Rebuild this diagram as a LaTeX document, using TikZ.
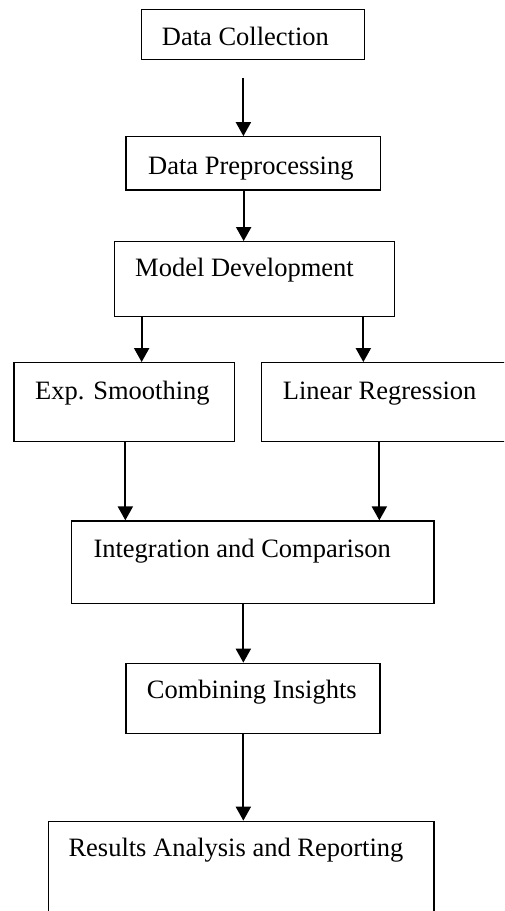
\documentclass[tikz,border=0pt]{standalone}
\usepackage{fontspec}
\setmainfont{Liberation Serif}
\usetikzlibrary{arrows.meta}
\begin{document}
\begin{tikzpicture}[x=1pt,y=-1pt,
  boxstyle/.style={draw, line width=1.3pt, inner sep=0pt},
  lbl/.style={anchor=base west, inner sep=0pt, font=\fontsize{26.5}{30}\selectfont},
  arr/.style={line width=2pt, -{Triangle[width=15pt,length=14pt]}}]
\useasboundingbox (0,0) rectangle (504,911);
\clip (0,0) rectangle (504,911);
% boxes
\node[boxstyle, minimum width=223pt,   minimum height=50.4pt]  (b1) at (253.2,34.5) {};
\node[boxstyle, minimum width=254.3pt, minimum height=53.3pt]  (b2) at (253.2,163.4) {};
\node[boxstyle, minimum width=280pt,   minimum height=75pt]    (b3) at (254.3,279.2) {};
\node[boxstyle, minimum width=220.2pt, minimum height=79pt]    (b4) at (124.1,402.2) {};
\node[boxstyle, minimum width=268.3pt, minimum height=79pt]    (b5) at (395.85,402.2) {};
\node[boxstyle, minimum width=362.3pt, minimum height=82.2pt]  (b6) at (252.85,562.1) {};
\node[boxstyle, minimum width=254pt,   minimum height=70pt]    (b7) at (253,698.3) {};
\node[boxstyle, minimum width=385.7pt, minimum height=118.7pt] (b8) at (241.15,880.65) {};
% texts
\node[lbl] (t1) at (161.7,45.7) {Data Collection};
\node[lbl] (t2) at (148,174) {Data Preprocessing};
\node[lbl] (t3) at (135,276.7) {Model Development};
\node[lbl] (t4) at (35,399.3) {Exp. Smoothing};
\node[lbl] (t5) at (282.7,399.3) {Linear Regression};
\node[lbl] (t6) at (93.3,557) {Integration and Comparison};
\node[lbl] (t7) at (146.7,698.3) {Combining Insights};
\node[lbl] (t8) at (68.3,856.7) {Results Analysis and Reporting};
% arrow end points
\path ([xshift=118pt]b2.north west) coordinate (e1);
\path ([xshift=130pt]b3.north west) coordinate (e2);
\path ([xshift=128.3pt]b4.north west) coordinate (e3);
\path ([xshift=102.3pt]b5.north west) coordinate (e4);
\path ([xshift=54.3pt]b6.north west) coordinate (e5);
\path ([xshift=308.3pt]b6.north west) coordinate (e6);
\path ([xshift=118pt]b7.north west) coordinate (e7);
\path ([xshift=195.7pt]b8.north west) coordinate (e8);
% connectors
\draw[arr, shorten <=17.6pt] (e1 |- b1.south) -- (e1);
\draw[arr] (e2 |- b2.south) -- (e2);
\draw[arr] (e3 |- b3.south) -- (e3);
\draw[arr] (e4 |- b3.south) -- (e4);
\draw[arr] (e5 |- b4.south) -- (e5);
\draw[arr] (e6 |- b5.south) -- (e6);
\draw[arr] (e7 |- b6.south) -- (e7);
\draw[arr] (e8 |- b7.south) -- (e8);
\end{tikzpicture}
\end{document}
